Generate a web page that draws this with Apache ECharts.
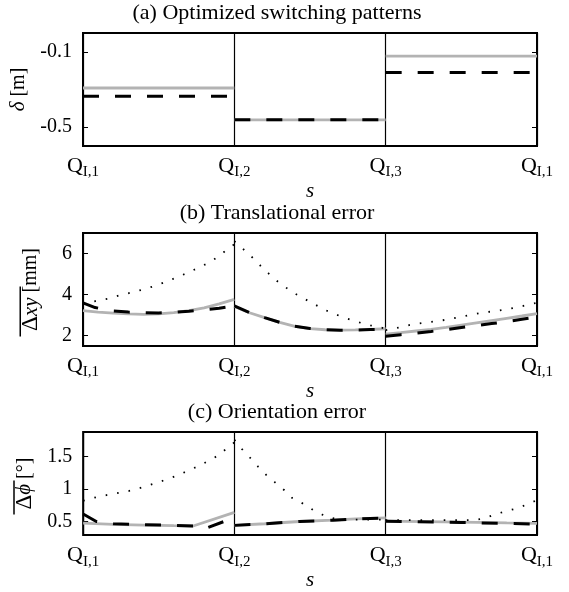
<!DOCTYPE html>
<html><head><meta charset="utf-8">
<script src="https://cdn.jsdelivr.net/npm/echarts@6/dist/echarts.min.js"></script>
<style>html,body{margin:0;padding:0;background:#fff}#c{width:569px;height:592px}</style>
</head><body><div id="c"></div>
<script>
// ---------- data ----------
const xTickSubs = ['I,1', 'I,2', 'I,3', 'I,1'];
const titles = ['(a) Optimized switching patterns', '(b) Translational error', '(c) Orientation error'];

// (a) optimized switching distance δ per segment
const aGray = [-0.292, -0.461, -0.123];
const aDash = [-0.336, -0.461, -0.210];
const aTicks = [-0.5, -0.1];
const aRange = [-0.6, 0];

// (b) translational error, [s, value] per segment
const bGray1 = [[0,3.22],[0.1,3.15],[0.2,3.1],[0.3,3.06],[0.4,3.04],[0.5,3.06],[0.6,3.12],[0.7,3.22],[0.8,3.36],[0.9,3.55],[1.0,3.77]];
const bDash1 = [[0,3.6],[0.08,3.37],[0.2,3.21],[0.3,3.15],[0.4,3.12],[0.5,3.11],[0.6,3.14],[0.7,3.19],[0.8,3.26],[0.9,3.34],[1.0,3.45]];
const bDot1  = [[0,3.55],[0.083,3.69],[0.171,3.81],[0.242,3.97],[0.319,4.10],[0.396,4.25],[0.473,4.42],[0.546,4.62],[0.617,4.83],[0.694,5.07],[0.766,5.32],[0.833,5.56],[0.9,5.88],[0.96,6.25],[1.0,6.45]];
const bGray2 = [[1.0,3.42],[1.1,3.12],[1.2,2.88],[1.3,2.65],[1.4,2.46],[1.5,2.35],[1.6,2.29],[1.7,2.27],[1.8,2.28],[1.9,2.31],[2.0,2.34]];
const bDash2 = [[1.0,3.45],[1.1,3.13],[1.2,2.88],[1.3,2.65],[1.4,2.46],[1.5,2.35],[1.6,2.29],[1.7,2.27],[1.8,2.28],[1.9,2.30],[2.0,2.31]];
const bDot2  = [[1.0,6.6],[1.1,5.95],[1.2,5.2],[1.3,4.55],[1.4,4.05],[1.5,3.65],[1.6,3.25],[1.7,2.95],[1.8,2.7],[1.9,2.5],[2.0,2.35]];
const bGray3 = [[2.0,2.08],[2.1,2.15],[2.2,2.23],[2.3,2.31],[2.4,2.41],[2.5,2.52],[2.6,2.63],[2.7,2.74],[2.8,2.85],[2.9,2.96],[3.0,3.08]];
const bDash3 = [[2.0,1.97],[2.1,2.05],[2.2,2.13],[2.3,2.21],[2.4,2.30],[2.5,2.40],[2.6,2.49],[2.7,2.59],[2.8,2.69],[2.9,2.80],[3.0,2.91]];
const bDot3  = [[2.0,2.27],[2.09,2.40],[2.17,2.54],[2.25,2.63],[2.33,2.70],[2.40,2.78],[2.48,2.90],[2.56,3.01],[2.64,3.13],[2.72,3.19],[2.80,3.29],[2.88,3.40],[2.95,3.53],[3.0,3.6]];
const bTicks = [2, 4, 6];
const bRange = [1.5, 7];

// (c) orientation error
const cGray1 = [[0,0.475],[0.2,0.455],[0.4,0.445],[0.6,0.435],[0.727,0.43],[1.0,0.64]];
const cDash1 = [[0,0.615],[0.087,0.50],[0.2,0.465],[0.4,0.45],[0.6,0.44],[0.727,0.43],[0.8,0.385],[1.0,0.56]];
const cDot1  = [[0,0.82],[0.087,0.875],[0.164,0.911],[0.242,0.945],[0.319,0.978],[0.396,1.03],[0.473,1.086],[0.544,1.143],[0.617,1.203],[0.694,1.284],[0.766,1.358],[0.837,1.447],[0.904,1.532],[0.958,1.65],[1.0,1.72]];
const cGray2 = [[1.0,0.44],[1.2,0.465],[1.43,0.50],[1.65,0.52],[1.8,0.54],[2.0,0.555]];
const cDash2 = [[1.0,0.44],[1.2,0.465],[1.43,0.50],[1.65,0.52],[1.8,0.54],[2.0,0.555]];
const cDot2  = [[1.0,1.76],[1.05,1.616],[1.107,1.475],[1.157,1.344],[1.21,1.217],[1.27,1.10],[1.33,0.982],[1.38,0.865],[1.45,0.78],[1.52,0.677],[1.58,0.607],[1.65,0.55],[1.72,0.535],[1.8,0.53],[2.0,0.53]];
const cGray3 = [[2.0,0.505],[2.5,0.49],[2.8,0.478],[3.0,0.472]];
const cDash3 = [[2.0,0.505],[2.5,0.485],[2.8,0.47],[3.0,0.46]];
const cDot3  = [[2.0,0.52],[2.3,0.52],[2.58,0.52],[2.65,0.545],[2.72,0.607],[2.8,0.663],[2.88,0.71],[2.95,0.78],[3.0,0.83]];
const cTicks = [0.5, 1, 1.5];
const cRange = [0.29, 1.88];

// ---------- styling ----------
const FF = '"Liberation Serif", "Times New Roman", serif';
const GRAY = '#b3b3b3';
const gridTops = [33, 233, 432];
const gridH = 113;

const chart = echarts.init(document.getElementById('c'));

const grids = gridTops.map(t => ({left: 83, right: 32, top: t, height: gridH, show: true,
  borderColor: '#000', borderWidth: 2, backgroundColor: 'transparent', containLabel: false}));

const xAxes = gridTops.map((t, i) => ({
  type: 'value', gridIndex: i, min: 0, max: 3, interval: 1,
  axisLine: {show: false}, axisTick: {show: false},
  splitLine: {show: true, lineStyle: {color: '#000', width: 1.2}},
  axisLabel: {margin: 9, formatter: v => '{q|Q}{s|' + xTickSubs[v] + '}',
    rich: {q: {fontFamily: FF, fontSize: 22, color: '#000', verticalAlign: 'bottom', padding: [0, 0, 3, 0]},
           s: {fontFamily: FF, fontSize: 15, color: '#000', verticalAlign: 'bottom'}}},
  name: 's', nameLocation: 'middle', nameGap: 27,
  nameTextStyle: {fontFamily: FF, fontSize: 21, fontStyle: 'italic', color: '#000'}
}));

const ranges = [aRange, bRange, cRange];
const ticks = [aTicks, bTicks, cTicks];
const yNames = [
  '{i|δ}{n| [m]}',
  '{bar|}{sp|}\n{g|Δ}{i|xy}{n| [mm]}',
  '{bar2|}{sp2|}\n{g|Δ}{i|ϕ}{n| [°]}'
];
const yRich = {
  i: {fontFamily: FF, fontSize: 21, fontStyle: 'italic', color: '#000', lineHeight: 20},
  n: {fontFamily: FF, fontSize: 20, color: '#000', lineHeight: 20},
  g: {fontFamily: FF, fontSize: 23, color: '#000', lineHeight: 20},
  bar: {width: 50, height: 1.5, backgroundColor: '#000'},
  sp: {width: 44, height: 1.5},
  bar2: {width: 34, height: 1.5, backgroundColor: '#000'},
  sp2: {width: 28, height: 1.5}
};
const yAxes = [];
[0, 1, 2].forEach(i => {
  yAxes.push({
    type: 'value', gridIndex: i, min: ranges[i][0], max: ranges[i][1], position: 'left',
    axisLine: {show: false}, splitLine: {show: false},
    axisTick: {show: true, inside: true, length: 5, customValues: ticks[i], lineStyle: {color: '#000', width: 1}},
    axisLabel: {customValues: ticks[i], margin: 11, fontFamily: FF, fontSize: 20, color: '#000',
      formatter: v => String(v)},
    name: yNames[i], nameLocation: 'middle', nameRotate: 90, nameGap: i === 0 ? 35 : 42,
    nameTextStyle: {rich: yRich, color: '#000', align: 'center'}
  });
});
[0, 1, 2].forEach(i => {
  yAxes.push({
    type: 'value', gridIndex: i, min: ranges[i][0], max: ranges[i][1], position: 'right',
    axisLine: {show: false}, splitLine: {show: false}, axisLabel: {show: false},
    axisTick: {show: true, inside: true, length: 5, customValues: ticks[i], lineStyle: {color: '#000', width: 1}}
  });
});

const series = [];
function addLine(panel, data, kind) {
  const ls = kind === 'gray' ? {color: GRAY, width: 2.8, type: 'solid'}
    : kind === 'dash' ? {color: '#000', width: 3, type: [16, 16], cap: 'butt'}
    : {color: '#000', width: 1.8, type: [1.6, 10], cap: 'butt'};
  series.push({type: 'line', xAxisIndex: panel, yAxisIndex: panel, data: data, showSymbol: false,
    symbol: 'none', silent: true, animation: false, lineStyle: ls,
    z: kind === 'gray' ? 2 : kind === 'dash' ? 3 : 4});
}
// (a)
[0, 1, 2].forEach(k => {
  addLine(0, [[k, aGray[k]], [k + 1, aGray[k]]], 'gray');
  addLine(0, [[k, aDash[k]], [k + 1, aDash[k]]], 'dash');
});
// (b)
[bGray1, bGray2, bGray3].forEach(d => addLine(1, d, 'gray'));
[bDash1, bDash2, bDash3].forEach(d => addLine(1, d, 'dash'));
[bDot1, bDot2, bDot3].forEach(d => addLine(1, d, 'dot'));
// (c)
[cGray1, cGray2, cGray3].forEach(d => addLine(2, d, 'gray'));
[cDash1, cDash2, cDash3].forEach(d => addLine(2, d, 'dash'));
[cDot1, cDot2, cDot3].forEach(d => addLine(2, d, 'dot'));

const graphic = titles.map((t, i) => ({
  type: 'text', x: 277, y: gridTops[i] - 20,
  style: {text: t, font: '22px ' + FF, fill: '#000', align: 'center', verticalAlign: 'middle'}
}));

chart.setOption({
  animation: false,
  backgroundColor: '#fff',
  grid: grids, xAxis: xAxes, yAxis: yAxes, series: series, graphic: graphic
});
</script></body></html>
